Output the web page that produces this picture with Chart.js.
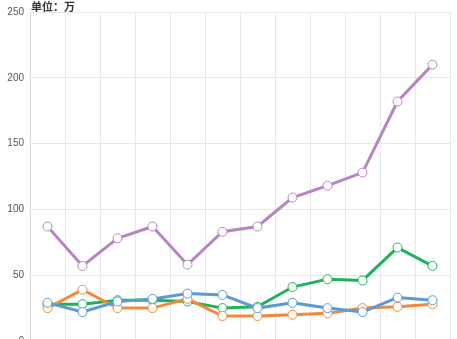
<!DOCTYPE html>
<html>
<head>
<meta charset="utf-8">
<script src="https://cdn.jsdelivr.net/npm/chart.js@4"></script>
<style>
  html, body { margin: 0; padding: 0; background: #fff; overflow: hidden; }
  #wrap { position: relative; width: 457px; height: 365px; }
</style>
</head>
<body>
<div id="wrap"><canvas id="trendChart"></canvas></div>
<script>
// months along the x axis
const months = ["1月", "2月", "3月", "4月", "5月", "6月", "7月", "8月", "9月", "10月", "11月", "12月"];

// series values, unit: 万
const purpleValues = [87, 57, 78, 87, 58, 83, 87, 109, 118, 128, 182, 210];
const orangeValues = [25, 39, 25, 25, 32, 19, 19, 20, 21, 25, 26, 28];
const blueValues = [29, 22, 30, 32, 36, 35, 25, 29, 25, 22, 33, 31];
const greenValues = [28, 28, 31, 31, 30, 25, 26, 41, 47, 46, 71, 57];

const yMin = 0;
const yMax = 250;
const yStep = 50;

function series(values, color) {
  return {
    data: values,
    borderColor: color,
    backgroundColor: "#fff",
    borderWidth: 3,
    pointRadius: 4.5,
    pointBorderWidth: 1,
    pointBackgroundColor: "#fff",
    pointBorderColor: color,
    tension: 0
  };
}

// draws the unit note above the plot
const unitLabel = {
  id: "unitLabel",
  afterDraw(chart) {
    const ctx = chart.ctx;
    ctx.save();
    ctx.font = "bold 11px 'Noto Sans CJK SC', sans-serif";
    ctx.fillStyle = "#333";
    ctx.textBaseline = "middle";
    ctx.fillText("单位：万", chart.chartArea.left + 1, 7);
    ctx.restore();
  }
};

const ctx = document.getElementById("trendChart").getContext("2d");

new Chart(ctx, {
  type: "line",
  data: {
    labels: months,
    datasets: [
      series(blueValues, "#5b9bd5"),
      series(orangeValues, "#ef8a3c"),
      series(greenValues, "#1fb25a"),
      series(purpleValues, "#b487c0")
    ]
  },
  options: {
    responsive: true,
    maintainAspectRatio: false,
    animation: false,
    layout: {
      padding: { top: 10, right: 7, left: 0, bottom: 0 }
    },
    scales: {
      x: {
        offset: true,
        grid: { offset: true, color: "#e6e8f0", drawTicks: false },
        border: { color: "#d8d8d8" },
        ticks: { color: "#666", font: { size: 10 }, padding: 6 }
      },
      y: {
        min: yMin,
        max: yMax,
        afterFit(scale) { scale.width = 30; },
        grid: { color: "#e6e8f0", drawTicks: false },
        border: { color: "#d8d8d8" },
        ticks: {
          stepSize: yStep,
          color: "#555",
          font: { size: 10 },
          padding: 6
        }
      }
    },
    plugins: {
      legend: { display: false },
      tooltip: { enabled: false }
    }
  },
  plugins: [unitLabel]
});
</script>
</body>
</html>
